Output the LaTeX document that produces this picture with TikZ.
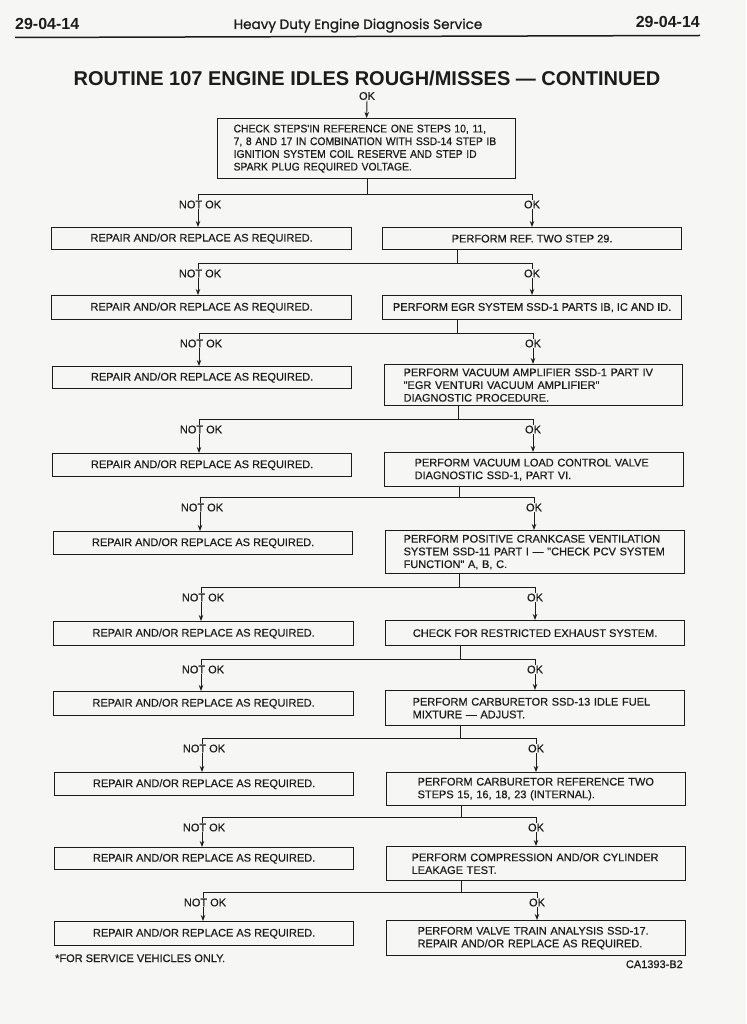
\documentclass[tikz,border=0pt]{standalone}
\usepackage{fontspec}
\setmainfont{Liberation Sans}
\newfontfamily\bodyfont[FakeBold=0.45]{Liberation Sans}
\newfontfamily\narrowfont[FakeStretch=0.94,FakeBold=0.45]{Liberation Sans}
\newfontfamily\headfont[FakeBold=0.8]{Poppins}
\usetikzlibrary{arrows.meta}
\definecolor{paper}{RGB}{246,246,244}
\definecolor{ink}{RGB}{28,28,28}
\tikzset{
  box/.style={draw=ink, line width=1.25pt, inner sep=0pt, text=ink,
    font=\bodyfont\fontsize{11}{12.7}\selectfont},
  conn/.style={draw=ink, line width=0.95pt},
  arr/.style={conn, -{Stealth[length=6pt,width=4.5pt]}},
  lab/.style={font=\bodyfont\fontsize{11}{12}\selectfont, text=ink, fill=paper,
    inner xsep=1pt, inner ysep=0.6pt},
  note/.style={font=\bodyfont\fontsize{11}{12}\selectfont, text=ink, inner sep=0pt},
}
% centred box: [opts] name, x1, y1, x2, y2, text
\newcommand\BoxAt[7][]{%
  \pgfmathsetmacro\myW{#5-#3}\pgfmathsetmacro\myH{#6-#4}%
  \node[box, anchor=north west, minimum width=\myW pt, minimum height=\myH pt, align=center, #1] (#2) at (#3,#4) {#7};}
% left aligned box: [opts] name, x1, y1, x2, y2, pad, text
\newcommand\LBoxAt[8][]{%
  \pgfmathsetmacro\myW{#5-#3}\pgfmathsetmacro\myH{#6-#4}\pgfmathsetmacro\myT{#5-#3-2*#7}%
  \node[box, anchor=north west, minimum width=\myW pt, minimum height=\myH pt,
        text width=\myT pt, inner xsep=#7pt, align=left, #1] (#2) at (#3,#4) {#8};}
\begin{document}
\begin{tikzpicture}[x=1pt,y=-1pt]
\fill[paper] (0,0) rectangle (746,1024);
\useasboundingbox (0,0) rectangle (746,1024);

% header
\node[font=\bfseries\fontsize{16}{18}\selectfont, text=ink, anchor=base west, inner sep=0pt] (pgL) at (15,30) {29-04-14};
\node[font=\bfseries\fontsize{16}{18}\selectfont, text=ink, anchor=base east, inner sep=0pt] (pgR) at (700,28) {29-04-14};
\node[font=\headfont\fontsize{13.6}{16}\selectfont, text=ink, anchor=base, inner sep=0pt] (hdr) at (358,29) {Heavy Duty Engine Diagnosis Service};
\draw[ink, line width=1.5pt] (15,37.5) -- (700,35.5);

% title
\node[font=\bfseries\fontsize{20}{24}\selectfont, text=ink, anchor=base, inner sep=0pt] (title) at (367,86) {ROUTINE 107 ENGINE IDLES ROUGH/MISSES — CONTINUED};

% top box
\LBoxAt[font=\narrowfont\fontsize{11}{12.7}\selectfont]{top}{217}{118}{515}{178}{16}{CHECK STEPS'IN REFERENCE ONE STEPS 10, 11,\\7, 8 AND 17 IN COMBINATION WITH SSD-14 STEP IB\\IGNITION SYSTEM COIL RESERVE AND STEP ID\\SPARK PLUG REQUIRED VOLTAGE.}
\node[lab] (ok0) at (367,96) {OK};
\draw[arr] (ok0.south) -- (top.north);

% left boxes
\BoxAt{L1}{51}{227}{351}{249}{REPAIR AND/OR REPLACE AS REQUIRED.}
\BoxAt{L2}{51}{295}{351}{319}{REPAIR AND/OR REPLACE AS REQUIRED.}
\BoxAt{L3}{52}{366}{351}{388}{REPAIR AND/OR REPLACE AS REQUIRED.}
\BoxAt{L4}{52}{453}{351}{476}{REPAIR AND/OR REPLACE AS REQUIRED.}
\BoxAt{L5}{53}{531}{352}{554}{REPAIR AND/OR REPLACE AS REQUIRED.}
\BoxAt{L6}{53}{621}{353}{645}{REPAIR AND/OR REPLACE AS REQUIRED.}
\BoxAt{L7}{53}{691}{353}{715}{REPAIR AND/OR REPLACE AS REQUIRED.}
\BoxAt{L8}{54}{772}{353}{795}{REPAIR AND/OR REPLACE AS REQUIRED.}
\BoxAt{L9}{54}{847}{353}{869}{REPAIR AND/OR REPLACE AS REQUIRED.}
\BoxAt{L10}{54}{921}{353}{945}{REPAIR AND/OR REPLACE AS REQUIRED.}

% right boxes
\BoxAt{R1}{382}{227}{681}{249}{PERFORM REF. TWO STEP 29.}
\BoxAt{R2}{382}{295}{681}{319}{PERFORM EGR SYSTEM SSD-1 PARTS IB, IC AND ID.}
\LBoxAt{R3}{384}{364}{682}{405}{19}{PERFORM VACUUM AMPLIFIER SSD-1 PART IV\\"EGR VENTURI VACUUM AMPLIFIER"\\DIAGNOSTIC PROCEDURE.}
\LBoxAt{R4}{384}{452}{683}{486}{30}{PERFORM VACUUM LOAD CONTROL VALVE\\DIAGNOSTIC SSD-1, PART VI.}
\LBoxAt{R5}{385}{530}{684}{573}{18}{PERFORM POSITIVE CRANKCASE VENTILATION\\SYSTEM SSD-11 PART I — "CHECK PCV SYSTEM\\FUNCTION" A, B, C.}
\BoxAt{R6}{385}{620}{684}{645}{CHECK FOR RESTRICTED EXHAUST SYSTEM.}
\LBoxAt{R7}{385}{690}{684}{725}{27}{PERFORM CARBURETOR SSD-13 IDLE FUEL\\MIXTURE — ADJUST.}
\LBoxAt{R8}{386}{772}{685}{805}{31}{PERFORM CARBURETOR REFERENCE TWO\\STEPS 15, 16, 18, 23 (INTERNAL).}
\LBoxAt{R9}{386}{846}{685}{880}{25}{PERFORM COMPRESSION AND/OR CYLINDER\\LEAKAGE TEST.}
\LBoxAt{R10}{386}{920}{685}{955}{31}{PERFORM VALVE TRAIN ANALYSIS SSD-17.\\REPAIR AND/OR REPLACE AS REQUIRED.}

% branches
\foreach \k/\p/\by/\axl/\axr/\jx in {
  1/top/194/198/532/367, 2/R1/263/198/532/457, 3/R2/333/199/533/457,
  4/R3/419/199/533/458, 5/R4/497/200/534/459, 6/R5/587/201/535/459,
  7/R6/659/201/535/460, 8/R7/738/202/536/460, 9/R8/817/202/536/461,
  10/R9/892/203/537/461}{
  \coordinate (j\k) at (\jx,\by);
  \coordinate (bl\k) at (\axl,\by);
  \coordinate (br\k) at (\axr,\by);
  \draw[conn] (\p.south -| j\k) -- (j\k);
  \draw[conn] (bl\k) -- (br\k);
  \draw[arr] (bl\k) -- (bl\k |- L\k.north);
  \draw[arr] (br\k) -- (br\k |- R\k.north);
  \node[lab] (nok\k) at (\axl+2,\by+10.5) {NOT OK};
  \node[lab] (ok\k) at (\axr,\by+10.5) {OK};
}

% notes
\node[note, anchor=base west] (fn) at (55,962) {*FOR SERVICE VEHICLES ONLY.};
\node[note, anchor=base east] (code) at (683,968) {CA1393-B2};
\end{tikzpicture}
\end{document}
